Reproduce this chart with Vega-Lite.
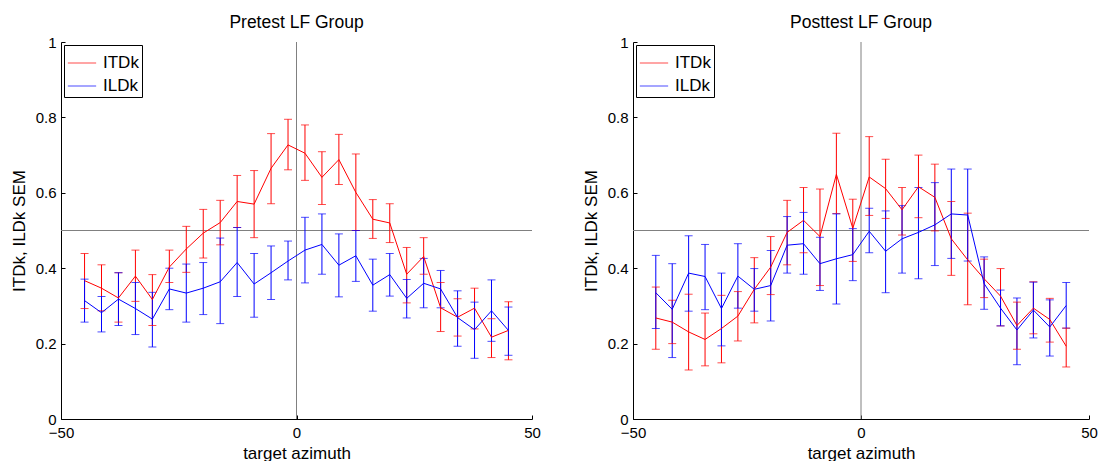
{
  "$schema": "https://vega.github.io/schema/vega-lite/v6.json",
  "background": "white",
  "padding": {"left": 10, "top": 13, "right": 0, "bottom": 0},
  "spacing": 41,
  "config": {
    "font": "Liberation Sans",
    "view": {"stroke": null},
    "title": {"fontSize": 17.5, "fontWeight": "normal", "color": "black", "offset": 4},
    "axis": {
      "grid": false,
      "domainColor": "black",
      "domainWidth": 1,
      "tickColor": "black",
      "tickSize": -4,
      "labelFlush": false,
      "labelFontSize": 15,
      "labelColor": "black",
      "titleFontSize": 17,
      "titleFontWeight": "normal",
      "titleColor": "black"
    },
    "legend": {
      "title": null,
      "orient": "top-left",
      "offset": 3,
      "strokeColor": "black",
      "fillColor": "white",
      "padding": 3,
      "symbolType": "stroke",
      "symbolSize": 800,
      "symbolStrokeWidth": 1,
      "labelFontSize": 17,
      "labelColor": "black",
      "labelOffset": 6,
      "rowPadding": -6
    }
  },
  "resolve": {"legend": {"color": "independent"}},
  "datasets": {
    "pre": [
      {"az": -45, "measure": "ITDk", "m": 0.367, "lo": 0.293, "hi": 0.439},
      {"az": -41.4, "measure": "ITDk", "m": 0.347, "lo": 0.287, "hi": 0.409},
      {"az": -37.8, "measure": "ITDk", "m": 0.321, "lo": 0.257, "hi": 0.388},
      {"az": -34.2, "measure": "ITDk", "m": 0.379, "lo": 0.312, "hi": 0.448},
      {"az": -30.6, "measure": "ITDk", "m": 0.317, "lo": 0.248, "hi": 0.383},
      {"az": -27, "measure": "ITDk", "m": 0.403, "lo": 0.362, "hi": 0.448},
      {"az": -23.4, "measure": "ITDk", "m": 0.451, "lo": 0.389, "hi": 0.511},
      {"az": -19.8, "measure": "ITDk", "m": 0.493, "lo": 0.427, "hi": 0.556},
      {"az": -16.2, "measure": "ITDk", "m": 0.521, "lo": 0.462, "hi": 0.580},
      {"az": -12.6, "measure": "ITDk", "m": 0.577, "lo": 0.508, "hi": 0.646},
      {"az": -9, "measure": "ITDk", "m": 0.570, "lo": 0.481, "hi": 0.659},
      {"az": -5.4, "measure": "ITDk", "m": 0.665, "lo": 0.571, "hi": 0.757},
      {"az": -1.8, "measure": "ITDk", "m": 0.727, "lo": 0.661, "hi": 0.795},
      {"az": 1.8, "measure": "ITDk", "m": 0.705, "lo": 0.633, "hi": 0.780},
      {"az": 5.4, "measure": "ITDk", "m": 0.641, "lo": 0.569, "hi": 0.709},
      {"az": 9, "measure": "ITDk", "m": 0.688, "lo": 0.622, "hi": 0.755},
      {"az": 12.6, "measure": "ITDk", "m": 0.601, "lo": 0.500, "hi": 0.703},
      {"az": 16.2, "measure": "ITDk", "m": 0.530, "lo": 0.479, "hi": 0.582},
      {"az": 19.8, "measure": "ITDk", "m": 0.520, "lo": 0.468, "hi": 0.571},
      {"az": 23.4, "measure": "ITDk", "m": 0.384, "lo": 0.308, "hi": 0.455},
      {"az": 27, "measure": "ITDk", "m": 0.431, "lo": 0.384, "hi": 0.481},
      {"az": 30.6, "measure": "ITDk", "m": 0.295, "lo": 0.232, "hi": 0.362},
      {"az": 34.2, "measure": "ITDk", "m": 0.270, "lo": 0.220, "hi": 0.319},
      {"az": 37.8, "measure": "ITDk", "m": 0.294, "lo": 0.239, "hi": 0.347},
      {"az": 41.4, "measure": "ITDk", "m": 0.217, "lo": 0.163, "hi": 0.266},
      {"az": 45, "measure": "ITDk", "m": 0.235, "lo": 0.157, "hi": 0.311},
      {"az": -45, "measure": "ILDk", "m": 0.314, "lo": 0.257, "hi": 0.371},
      {"az": -41.4, "measure": "ILDk", "m": 0.282, "lo": 0.231, "hi": 0.325},
      {"az": -37.8, "measure": "ILDk", "m": 0.318, "lo": 0.248, "hi": 0.388},
      {"az": -34.2, "measure": "ILDk", "m": 0.293, "lo": 0.224, "hi": 0.362},
      {"az": -30.6, "measure": "ILDk", "m": 0.265, "lo": 0.191, "hi": 0.336},
      {"az": -27, "measure": "ILDk", "m": 0.345, "lo": 0.290, "hi": 0.400},
      {"az": -23.4, "measure": "ILDk", "m": 0.334, "lo": 0.257, "hi": 0.411},
      {"az": -19.8, "measure": "ILDk", "m": 0.347, "lo": 0.277, "hi": 0.415},
      {"az": -16.2, "measure": "ILDk", "m": 0.364, "lo": 0.253, "hi": 0.480},
      {"az": -12.6, "measure": "ILDk", "m": 0.415, "lo": 0.325, "hi": 0.508},
      {"az": -9, "measure": "ILDk", "m": 0.358, "lo": 0.270, "hi": 0.439},
      {"az": -5.4, "measure": "ILDk", "m": 0.388, "lo": 0.317, "hi": 0.459},
      {"az": -1.8, "measure": "ILDk", "m": 0.419, "lo": 0.369, "hi": 0.472},
      {"az": 1.8, "measure": "ILDk", "m": 0.448, "lo": 0.361, "hi": 0.535},
      {"az": 5.4, "measure": "ILDk", "m": 0.463, "lo": 0.384, "hi": 0.544},
      {"az": 9, "measure": "ILDk", "m": 0.408, "lo": 0.324, "hi": 0.491},
      {"az": 12.6, "measure": "ILDk", "m": 0.433, "lo": 0.365, "hi": 0.500},
      {"az": 16.2, "measure": "ILDk", "m": 0.355, "lo": 0.286, "hi": 0.424},
      {"az": 19.8, "measure": "ILDk", "m": 0.383, "lo": 0.326, "hi": 0.439},
      {"az": 23.4, "measure": "ILDk", "m": 0.320, "lo": 0.268, "hi": 0.370},
      {"az": 27, "measure": "ILDk", "m": 0.360, "lo": 0.295, "hi": 0.426},
      {"az": 30.6, "measure": "ILDk", "m": 0.345, "lo": 0.295, "hi": 0.394},
      {"az": 34.2, "measure": "ILDk", "m": 0.269, "lo": 0.193, "hi": 0.340},
      {"az": 37.8, "measure": "ILDk", "m": 0.237, "lo": 0.161, "hi": 0.310},
      {"az": 41.4, "measure": "ILDk", "m": 0.287, "lo": 0.206, "hi": 0.369},
      {"az": 45, "measure": "ILDk", "m": 0.235, "lo": 0.169, "hi": 0.297}
    ],
    "post": [
      {"az": -45, "measure": "ITDk", "m": 0.268, "lo": 0.185, "hi": 0.350},
      {"az": -41.4, "measure": "ITDk", "m": 0.257, "lo": 0.200, "hi": 0.315},
      {"az": -37.8, "measure": "ITDk", "m": 0.231, "lo": 0.130, "hi": 0.331},
      {"az": -34.2, "measure": "ITDk", "m": 0.211, "lo": 0.141, "hi": 0.281},
      {"az": -30.6, "measure": "ITDk", "m": 0.240, "lo": 0.149, "hi": 0.328},
      {"az": -27, "measure": "ITDk", "m": 0.273, "lo": 0.207, "hi": 0.338},
      {"az": -23.4, "measure": "ITDk", "m": 0.344, "lo": 0.255, "hi": 0.428},
      {"az": -19.8, "measure": "ITDk", "m": 0.403, "lo": 0.330, "hi": 0.484},
      {"az": -16.2, "measure": "ITDk", "m": 0.495, "lo": 0.409, "hi": 0.580},
      {"az": -12.6, "measure": "ITDk", "m": 0.527, "lo": 0.441, "hi": 0.614},
      {"az": -9, "measure": "ITDk", "m": 0.484, "lo": 0.354, "hi": 0.610},
      {"az": -5.4, "measure": "ITDk", "m": 0.649, "lo": 0.545, "hi": 0.758},
      {"az": -1.8, "measure": "ITDk", "m": 0.506, "lo": 0.418, "hi": 0.583},
      {"az": 1.8, "measure": "ITDk", "m": 0.642, "lo": 0.540, "hi": 0.749},
      {"az": 5.4, "measure": "ITDk", "m": 0.611, "lo": 0.532, "hi": 0.689},
      {"az": 9, "measure": "ITDk", "m": 0.555, "lo": 0.488, "hi": 0.614},
      {"az": 12.6, "measure": "ITDk", "m": 0.616, "lo": 0.534, "hi": 0.700},
      {"az": 16.2, "measure": "ITDk", "m": 0.588, "lo": 0.499, "hi": 0.676},
      {"az": 19.8, "measure": "ITDk", "m": 0.478, "lo": 0.381, "hi": 0.577},
      {"az": 23.4, "measure": "ITDk", "m": 0.422, "lo": 0.303, "hi": 0.546},
      {"az": 27, "measure": "ITDk", "m": 0.372, "lo": 0.322, "hi": 0.424},
      {"az": 30.6, "measure": "ITDk", "m": 0.326, "lo": 0.247, "hi": 0.399},
      {"az": 34.2, "measure": "ITDk", "m": 0.248, "lo": 0.185, "hi": 0.310},
      {"az": 37.8, "measure": "ITDk", "m": 0.294, "lo": 0.226, "hi": 0.364},
      {"az": 41.4, "measure": "ITDk", "m": 0.264, "lo": 0.204, "hi": 0.320},
      {"az": 45, "measure": "ITDk", "m": 0.193, "lo": 0.138, "hi": 0.241},
      {"az": -45, "measure": "ILDk", "m": 0.335, "lo": 0.240, "hi": 0.434},
      {"az": -41.4, "measure": "ILDk", "m": 0.291, "lo": 0.163, "hi": 0.412},
      {"az": -37.8, "measure": "ILDk", "m": 0.387, "lo": 0.286, "hi": 0.486},
      {"az": -34.2, "measure": "ILDk", "m": 0.378, "lo": 0.290, "hi": 0.463},
      {"az": -30.6, "measure": "ILDk", "m": 0.293, "lo": 0.194, "hi": 0.387},
      {"az": -27, "measure": "ILDk", "m": 0.379, "lo": 0.294, "hi": 0.465},
      {"az": -23.4, "measure": "ILDk", "m": 0.344, "lo": 0.286, "hi": 0.399},
      {"az": -19.8, "measure": "ILDk", "m": 0.354, "lo": 0.260, "hi": 0.447},
      {"az": -16.2, "measure": "ILDk", "m": 0.461, "lo": 0.387, "hi": 0.537},
      {"az": -12.6, "measure": "ILDk", "m": 0.465, "lo": 0.384, "hi": 0.548},
      {"az": -9, "measure": "ILDk", "m": 0.412, "lo": 0.341, "hi": 0.482},
      {"az": -5.4, "measure": "ILDk", "m": 0.425, "lo": 0.305, "hi": 0.544},
      {"az": -1.8, "measure": "ILDk", "m": 0.436, "lo": 0.367, "hi": 0.505},
      {"az": 1.8, "measure": "ILDk", "m": 0.498, "lo": 0.441, "hi": 0.559},
      {"az": 5.4, "measure": "ILDk", "m": 0.445, "lo": 0.335, "hi": 0.552},
      {"az": 9, "measure": "ILDk", "m": 0.478, "lo": 0.387, "hi": 0.566},
      {"az": 12.6, "measure": "ILDk", "m": 0.495, "lo": 0.372, "hi": 0.614},
      {"az": 16.2, "measure": "ILDk", "m": 0.515, "lo": 0.407, "hi": 0.627},
      {"az": 19.8, "measure": "ILDk", "m": 0.544, "lo": 0.426, "hi": 0.663},
      {"az": 23.4, "measure": "ILDk", "m": 0.541, "lo": 0.419, "hi": 0.663},
      {"az": 27, "measure": "ILDk", "m": 0.359, "lo": 0.291, "hi": 0.430},
      {"az": 30.6, "measure": "ILDk", "m": 0.294, "lo": 0.247, "hi": 0.342},
      {"az": 34.2, "measure": "ILDk", "m": 0.236, "lo": 0.144, "hi": 0.321},
      {"az": 37.8, "measure": "ILDk", "m": 0.289, "lo": 0.215, "hi": 0.363},
      {"az": 41.4, "measure": "ILDk", "m": 0.244, "lo": 0.167, "hi": 0.316},
      {"az": 45, "measure": "ILDk", "m": 0.301, "lo": 0.241, "hi": 0.362}
    ]
  },
  "hconcat": [
    {
      "width": 471,
      "height": 377,
      "title": "Pretest LF Group",
      "layer": [
        {
          "data": {"values": [{"zero": 0, "half": 0.5}]},
          "mark": {"type": "rule", "color": "#808080", "strokeWidth": 1},
          "encoding": {"x": {"field": "zero", "type": "quantitative", "scale": {"domain": [-50, 50], "nice": false}}}
        },
        {
          "data": {"values": [{"zero": 0, "half": 0.5}]},
          "mark": {"type": "rule", "color": "#808080", "strokeWidth": 1},
          "encoding": {"y": {"field": "half", "type": "quantitative", "scale": {"domain": [0, 1], "nice": false}}}
        },
        {
          "data": {"name": "pre"},
          "layer": [
            {
              "mark": {"type": "rule", "strokeWidth": 1},
              "encoding": {
                "x": {"field": "az", "type": "quantitative"},
                "y": {"field": "lo", "type": "quantitative"},
                "y2": {"field": "hi"},
                "color": {"field": "measure", "type": "nominal", "scale": {"domain": ["ITDk", "ILDk"], "range": ["#ff0000", "#0000ff"]}}
              }
            },
            {
              "mark": {"type": "tick", "orient": "horizontal", "size": 8, "thickness": 1},
              "encoding": {
                "x": {"field": "az", "type": "quantitative"},
                "y": {"field": "lo", "type": "quantitative"},
                "color": {"field": "measure", "type": "nominal"}
              }
            },
            {
              "mark": {"type": "tick", "orient": "horizontal", "size": 8, "thickness": 1},
              "encoding": {
                "x": {"field": "az", "type": "quantitative"},
                "y": {"field": "hi", "type": "quantitative"},
                "color": {"field": "measure", "type": "nominal"}
              }
            },
            {
              "mark": {"type": "line", "strokeWidth": 1},
              "encoding": {
                "x": {"field": "az", "type": "quantitative", "title": "target azimuth", "axis": {"values": [-50, 0, 50], "labelPadding": 10, "titlePadding": 5}},
                "y": {"field": "m", "type": "quantitative", "title": "ITDk, ILDk SEM", "axis": {"values": [0, 0.2, 0.4, 0.6, 0.8, 1], "format": "~g", "labelPadding": 9, "titlePadding": 7}},
                "color": {"field": "measure", "type": "nominal"}
              }
            }
          ]
        }
      ]
    },
    {
      "width": 456,
      "height": 377,
      "title": "Posttest LF Group",
      "layer": [
        {
          "data": {"values": [{"zero": 0, "half": 0.5}]},
          "mark": {"type": "rule", "color": "#808080", "strokeWidth": 1},
          "encoding": {"x": {"field": "zero", "type": "quantitative", "scale": {"domain": [-50, 50], "nice": false}}}
        },
        {
          "data": {"values": [{"zero": 0, "half": 0.5}]},
          "mark": {"type": "rule", "color": "#808080", "strokeWidth": 1},
          "encoding": {"y": {"field": "half", "type": "quantitative", "scale": {"domain": [0, 1], "nice": false}}}
        },
        {
          "data": {"name": "post"},
          "layer": [
            {
              "mark": {"type": "rule", "strokeWidth": 1},
              "encoding": {
                "x": {"field": "az", "type": "quantitative"},
                "y": {"field": "lo", "type": "quantitative"},
                "y2": {"field": "hi"},
                "color": {"field": "measure", "type": "nominal", "scale": {"domain": ["ITDk", "ILDk"], "range": ["#ff0000", "#0000ff"]}}
              }
            },
            {
              "mark": {"type": "tick", "orient": "horizontal", "size": 8, "thickness": 1},
              "encoding": {
                "x": {"field": "az", "type": "quantitative"},
                "y": {"field": "lo", "type": "quantitative"},
                "color": {"field": "measure", "type": "nominal"}
              }
            },
            {
              "mark": {"type": "tick", "orient": "horizontal", "size": 8, "thickness": 1},
              "encoding": {
                "x": {"field": "az", "type": "quantitative"},
                "y": {"field": "hi", "type": "quantitative"},
                "color": {"field": "measure", "type": "nominal"}
              }
            },
            {
              "mark": {"type": "line", "strokeWidth": 1},
              "encoding": {
                "x": {"field": "az", "type": "quantitative", "title": "target azimuth", "axis": {"values": [-50, 0, 50], "labelPadding": 10, "titlePadding": 5}},
                "y": {"field": "m", "type": "quantitative", "title": "ITDk, ILDk SEM", "axis": {"values": [0, 0.2, 0.4, 0.6, 0.8, 1], "format": "~g", "labelPadding": 9, "titlePadding": 7}},
                "color": {"field": "measure", "type": "nominal"}
              }
            }
          ]
        }
      ]
    }
  ]
}
